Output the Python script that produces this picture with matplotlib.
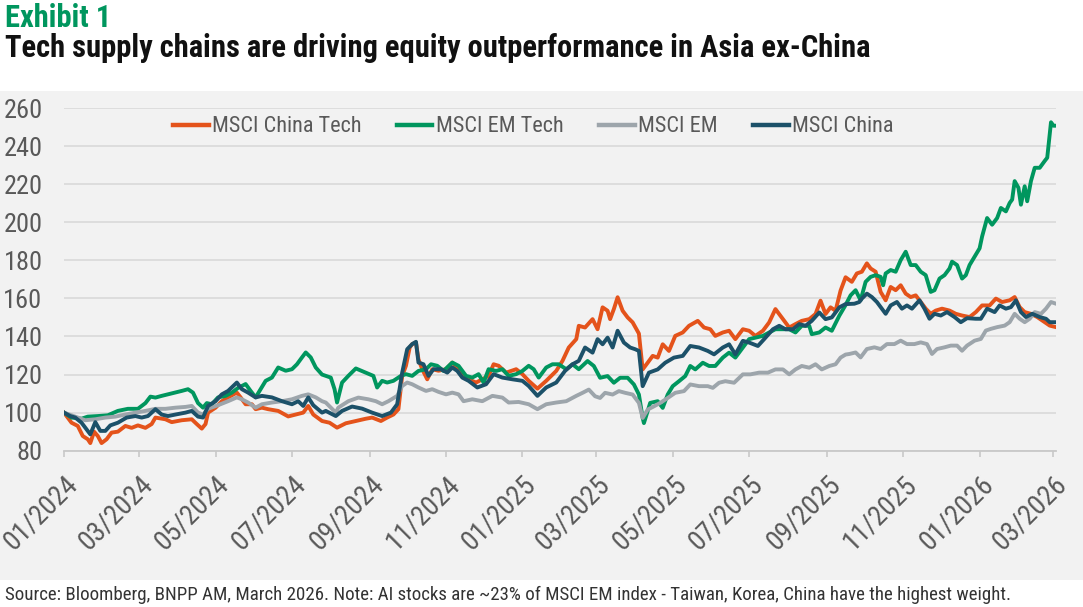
import numpy as np
import matplotlib
matplotlib.use("Agg")
import matplotlib.pyplot as plt
import matplotlib.dates as mdates
from matplotlib.patches import Rectangle

# ---------------- data (rebased index, 01/2024 = 100) ----------------
# dates are given as day offsets from 2024-01-01
start_date = "2024-01-01"

china_tech_days = [0, 6, 11, 15, 19, 21, 24, 27, 30, 34, 38, 43, 49, 54, 59, 65, 70, 73, 81, 86, 94, 102, 106, 110, 113, 115,
                   121, 126, 131, 138, 141, 145, 150, 153, 158, 163, 171, 179, 185, 191, 195, 199, 206,
                   212, 218, 225, 233, 241, 246, 253, 258, 263, 267, 270, 273, 276, 278, 281, 283, 286, 290, 294, 299,
                   305, 310, 314, 318, 323, 329, 334, 339, 343, 347, 353, 361, 366, 371, 378, 385, 393, 398, 403, 409,
                   411, 416, 422, 426, 430, 434, 436, 439, 442, 446, 450, 454, 459, 462, 466, 470, 474, 478, 483, 488,
                   494, 499, 506, 511, 516, 520, 526, 531, 536, 542, 547, 552, 558, 563, 568, 574, 579, 584, 589, 595,
                   600, 604, 608, 612, 616, 620, 624, 629, 633, 637, 641, 644, 648, 652, 656, 660, 664, 668, 672, 676,
                   680, 684, 688, 692, 696, 701, 707, 712, 717, 723, 728, 733, 739, 744, 749, 755, 759, 763, 767, 772,
                   777, 783, 787, 792]
china_tech_vals = [100, 94.7, 93, 87.7, 86, 84, 90, 87.7, 84, 86, 89.5, 90, 93, 92, 93.3, 92, 94, 97.4, 96.5, 95, 96, 96.5, 94, 91.6, 94, 100,
                   102.6, 106, 108, 110.5, 108, 104.4, 104.4, 101.8, 102.6, 101.8, 100.9, 98, 99, 100, 103.5, 99, 95.6,
                   94.7, 92.1, 94.4, 95.6, 96.8, 97.4, 95.6, 97.4, 99, 101.8, 119.3, 124.6, 134.2, 136, 136.8, 128, 122.8, 117.5, 122.8, 122,
                   122.8, 126.3, 123.7, 121, 117.5, 115.8, 117.5, 119.3, 125.4, 124.6, 121, 122.8, 120.2, 116.7, 112.6, 116.7, 121.9, 127.2, 134.2, 138.6,
                   145.6, 144.7, 149.1, 143.8, 155.3, 153.5, 149.1, 154.4, 160.6, 153.5, 150, 147.4, 141.5, 122.7, 126.2, 129.8, 128.9, 135.9, 132.4, 140.3,
                   142.1, 145.6, 148.2, 144.7, 143.8, 140.3, 142.1, 143, 138.6, 143.8, 143, 140.3, 143, 147.4, 154.4, 149.1, 144.7, 146.5, 148.2, 149.1,
                   151.8, 158.8, 151.8, 155.3, 153.5, 164.1, 171.1, 168.7, 173.1, 174, 178.4, 175.7, 174, 163.4, 159, 166, 164.3, 166.9, 162.5, 160.7,
                   161.6, 158.1, 154.6, 151.9, 153.6, 154.6, 153.6, 151.9, 151, 150.2, 152.8, 156.3, 156.3, 159.9, 158.1, 159, 160.7, 155.4, 152.8, 151.9,
                   150.2, 147.5, 145.7, 144.9]

em_tech_days = [0, 6, 14, 19, 27, 35, 43, 51, 59, 65, 69, 73, 78, 83, 89, 94, 99, 103, 107, 111, 114, 118, 123, 129, 134, 139,
                145, 149, 153, 157, 161, 166, 171, 177, 182, 186, 190, 193, 197, 201, 206,
                213, 216, 218, 222, 227, 233, 241, 247, 250, 254, 258, 263, 269, 273, 278, 283, 289, 293, 298, 303, 310,
                315, 321, 326, 331, 335, 339, 345, 350, 355, 361, 366, 371, 375, 379, 385, 390, 395, 401, 406, 411,
                418, 423, 428, 434, 439, 444, 450, 455, 459, 462, 463, 468, 474, 478, 482, 486, 491, 496, 500, 504,
                510, 515, 520, 526, 531, 536, 542, 547, 552, 558, 563, 568, 574, 579, 584, 589, 595, 597, 603, 608,
                613, 619, 624, 628, 632, 636, 640, 644, 648, 652, 654, 656, 660, 664, 668, 672, 676, 680, 684, 688,
                692, 695, 699, 703, 707, 709, 713, 717, 720, 723, 727, 731, 733, 737, 741, 745, 748, 752, 755, 757,
                759, 762, 764, 767, 769, 772, 775, 779, 783, 785, 788, 790, 792]
em_tech_vals = [100, 97.4, 96.8, 97.9, 98.2, 98.6, 100.9, 102, 102, 105, 108.4, 107.9, 108.8, 109.6, 110.5, 111.4, 112.3, 110.5, 105, 102.6, 105, 104.4, 108, 108.8, 110.5, 113,
                115, 111.4, 108, 112.3, 116.7, 118.4, 123.7, 122, 122.8, 125.4, 129, 131.6, 129, 123.7, 120,
                118.4, 112.3, 105.3, 115.8, 119.3, 123.2, 121, 119.3, 113.2, 116.7, 115.8, 116.7, 119.3, 120.2, 119.3, 121.9, 122.8, 125.4, 124.6, 121.9, 126.3,
                124.6, 119.3, 118.4, 120.2, 115.8, 122.8, 121.9, 122.8, 119.3, 120.2, 121.9, 124.6, 122.8, 118.4, 123.7, 125.4, 125.4, 122.8, 125.4, 122.8,
                127.1, 124.5, 118.3, 119.2, 115.7, 118.3, 118.3, 114.8, 109.5, 97.2, 94.5, 105.1, 106, 102.5, 109.5, 113.9, 116.5, 119.2, 124.5, 122.7,
                126.2, 124.5, 124.5, 128.9, 131.5, 128.9, 134.2, 138.6, 139.4, 140.3, 142.1, 143.8, 143.8, 143.8, 142.1, 145.6, 145.6, 141.2, 142.1, 144.7,
                143, 150.9, 156.5, 161.6, 164.3, 159, 168.7, 171.3, 172.2, 171.3, 166.9, 173.1, 174.9, 174, 180.1, 184.5, 177.5, 177.5, 174, 172.2,
                163.4, 164.3, 170.4, 172.2, 175.7, 179.3, 177.5, 170.4, 172.2, 177.5, 181.9, 186.3, 192.5, 202.2, 198.7, 202.2, 207.5, 205.7, 210.1, 211.9,
                221.6, 218.1, 209.2, 218.9, 211, 221.6, 228.6, 228.6, 232.2, 233.9, 252.5, 250.7, 250.7]

em_days = [0, 9, 17, 25, 33, 41, 49, 57, 65, 73, 81, 89, 97, 102, 107, 111, 115, 123, 131, 138, 142, 147, 153, 158, 166, 174,
           182, 190, 195, 201, 206,
           209, 217, 219, 227, 235, 243, 249, 254, 259, 266, 270, 274, 278, 283, 289, 294, 299, 305, 310, 315, 319,
           326, 334, 342, 350, 355, 363, 371, 378, 385, 393, 401, 409,
           414, 419, 424, 428, 432, 438, 443, 448, 454, 459, 462, 466, 471, 476, 482, 488, 495, 500, 507, 514,
           518, 523, 528, 535, 542, 548, 555, 562, 568, 574, 579, 584, 589, 595, 600, 605, 611, 616, 620, 624,
           627, 632, 636, 641, 647, 652, 657, 663, 668, 673, 679, 684, 689, 693, 697, 703, 708, 713, 717, 721,
           727, 732, 736, 740, 745, 751, 755, 759, 763, 767, 771, 775, 780, 784, 788, 792]
em_vals = [100, 97.9, 96, 96.5, 97.4, 97.9, 99, 100, 100.9, 102, 102, 102.6, 103, 103.5, 100, 99, 102, 103.9, 106, 108, 107, 105.3, 102.6, 104.4, 105.3, 106,
           107, 108.8, 109.6, 108, 106,
           105.3, 100, 102.6, 106, 107.9, 107, 106, 104.4, 106, 108.8, 114, 115.8, 114.9, 113.2, 111.4, 112.3, 110.9, 109.6, 110.5, 109.6, 106,
           107, 106, 108.8, 107.9, 105.3, 105.6, 104.4, 101.8, 104.4, 105.3, 106, 108.8,
           110.4, 112.1, 108.6, 107.7, 110.4, 109.5, 111.3, 110.4, 109.5, 105.1, 97.2, 101.6, 103.3, 105.1, 107.7, 110.4, 111.3, 114.8, 113.9, 113.9,
           113, 115.7, 116.5, 115.7, 120.1, 120.1, 121, 121, 122.7, 122.7, 120.1, 122.7, 124.5, 123.6, 125.4, 122.7, 124.5, 125.4, 128.9, 130.5,
           130.8, 131.6, 129, 133.4, 134.3, 133.4, 136, 136, 137.8, 136, 136, 136.9, 136, 130.8, 133.4, 134.3, 135.2, 135.2, 132.5, 135.2,
           137.8, 138.7, 143.1, 144, 144.9, 145.7, 147.5, 151.9, 149.3, 147.5, 149.3, 152.8, 151.9, 154.6, 158.1, 157.2]

china_days = [0, 5, 9, 14, 18, 21, 25, 29, 33, 37, 43, 50, 57, 62, 67, 73, 78, 83, 89, 97, 102, 107, 111, 115, 121, 126,
              131, 138, 142, 147, 153, 158, 166, 174, 182, 187, 191, 195, 199, 206,
              209, 217, 222, 230, 238, 246, 254, 261, 266, 270, 274, 278, 281, 283, 287, 291, 295, 301, 306, 310, 314,
              318, 323, 330, 337, 343, 350, 358, 366, 371, 378, 385, 393, 400, 406, 411,
              416, 422, 426, 430, 434, 438, 442, 447, 452, 456, 459, 462, 467, 474, 480, 487, 494, 500, 507, 514,
              519, 526, 531, 536, 542, 547, 554, 559, 566, 571, 576, 582, 587, 592, 597, 603, 608, 613, 619, 624,
              631, 635, 637, 641, 645, 649, 653, 656, 660, 665, 669, 673, 677, 683, 687, 691, 695, 700, 705, 711,
              716, 721, 728, 732, 737, 743, 747, 752, 756, 760, 764, 768, 773, 779, 784, 787, 792]
china_vals = [100, 98.2, 97.4, 94.7, 91.2, 88.6, 95, 90.4, 90.4, 93.3, 94.7, 97.4, 98.2, 97.4, 98.2, 101.8, 99, 98.2, 99, 100, 100.9, 97.9, 97.4, 103.5, 106, 109.6,
              111.4, 115.8, 112.3, 110.5, 108, 108.8, 108, 106, 104.4, 106, 103.5, 108, 103.9, 100,
              100.9, 98.2, 100.9, 103.2, 102.1, 100, 98.2, 100, 104.4, 121, 133.3, 136, 137.2, 126.3, 125.4, 119.3, 122.8, 122.8, 121, 123.7, 121.9,
              118.4, 116.7, 113.2, 114.9, 120.2, 118.4, 117.5, 116.7, 114, 108.8, 113.2, 115.8, 121.9, 125.4, 127.2,
              134.2, 131.5, 138.6, 135.9, 139.4, 134.2, 143, 136.8, 134.2, 133.3, 132.4, 113.9, 121, 122.7, 126.2, 128.9, 129.8, 135, 134.2, 132.4,
              130.6, 134.2, 135.9, 130.6, 137.7, 136.8, 135, 138.6, 143.8, 145.6, 143.8, 143.8, 146.5, 145.6, 148.2, 152.6, 149.1, 150, 155.3, 157,
              157.2, 158.1, 159.9, 162.5, 160.7, 158.1, 154.6, 151.9, 156.3, 158.1, 154.6, 156.3, 154.6, 159, 154.6, 149.3, 151.9, 151, 152.8, 150.2,
              147.5, 149.6, 149.3, 149.3, 154.6, 152.8, 156.3, 154.6, 155.4, 159, 152.8, 150.2, 151.9, 150.2, 149.3, 147.5, 147.5]

series_names = ["MSCI China Tech", "MSCI EM Tech", "MSCI EM", "MSCI China"]
series_colors = ["#E4531B", "#00965E", "#9DA5AB", "#1C5169"]

y_ticks = [80, 100, 120, 140, 160, 180, 200, 220, 240, 260]
x_tick_months = [1, 3, 5, 7, 9, 11]
x_end_day = 792

title_top = "Exhibit 1"
title_main = "Tech supply chains are driving equity outperformance in Asia ex-China"
footer = ("Source: Bloomberg, BNPP AM, March 2026. Note: AI stocks are ~23% of MSCI EM index "
          "- Taiwan, Korea, China have the highest weight.")

# ---------------- figure ----------------
FAM = ["Roboto Condensed", "Liberation Sans Narrow", "DejaVu Sans"]
plt.rcParams["font.family"] = FAM
TXT = "#595959"

W, H = 1083, 607
fig = plt.figure(figsize=(W / 100, H / 100), dpi=100)
fig.patch.set_facecolor("white")

# grey panel
fig.patches.append(Rectangle((0, 1 - 580 / H), 1, (580 - 91) / H, transform=fig.transFigure,
                             facecolor="#F2F2F2", edgecolor="none", zorder=-10))

ax = fig.add_axes([64 / W, 1 - 450.7 / H, (1056 - 64) / W, (450.7 - 108) / H])
ax.set_facecolor("none")
ax.set_zorder(5)

def to_dates(days):
    return np.datetime64(start_date) + np.array(days, dtype="timedelta64[D]")

all_days = [china_tech_days, em_tech_days, em_days, china_days]
all_vals = [china_tech_vals, em_tech_vals, em_vals, china_vals]
for d, v, name, c in zip(all_days, all_vals, series_names, series_colors):
    ax.plot(to_dates(d), v, color=c, lw=2.8, label=name, solid_joinstyle="round", zorder=3)

ax.set_ylim(y_ticks[0], y_ticks[-1])
ax.set_yticks(y_ticks)
ax.set_xlim(np.datetime64(start_date), to_dates([x_end_day])[0])
ax.xaxis.set_major_locator(mdates.MonthLocator(bymonth=x_tick_months))
ax.xaxis.set_major_formatter(mdates.DateFormatter("%m/%Y"))

ax.grid(axis="y", color="#D9D9D9", lw=1.2, zorder=1)
for s in ["top", "right", "left"]:
    ax.spines[s].set_visible(False)
ax.spines["bottom"].set_color("#C8C8C8")
ax.spines["bottom"].set_linewidth(1.3)
ax.tick_params(axis="y", length=0, labelsize=19, labelcolor=TXT, pad=15.5)
ax.tick_params(axis="x", length=4.5, width=1.2, color="#C8C8C8", labelsize=20, labelcolor=TXT, pad=10)
plt.setp(ax.get_xticklabels(), rotation=45, ha="right", rotation_mode="anchor")

leg = ax.legend(ncol=4, loc="center", bbox_to_anchor=(0.473, 0.945), frameon=False,
                fontsize=16, handlelength=1.6, handletextpad=0.15, columnspacing=1.6,
                labelcolor=TXT)
for h in leg.get_lines():
    h.set_linewidth(3.2)

fig.text(5 / W, 1 - 3 / H, title_top, color="#00965E", fontsize=22, fontweight="bold",
         ha="left", va="top")
fig.text(5 / W, 1 - 33 / H, title_main, color="#111111", fontsize=22, fontweight="bold",
         ha="left", va="top")
fig.text(5 / W, 1 - 595 / H, footer, color="#333333", fontsize=13.6, ha="left", va="center")

fig.savefig("out.png", dpi=100, facecolor="white")
